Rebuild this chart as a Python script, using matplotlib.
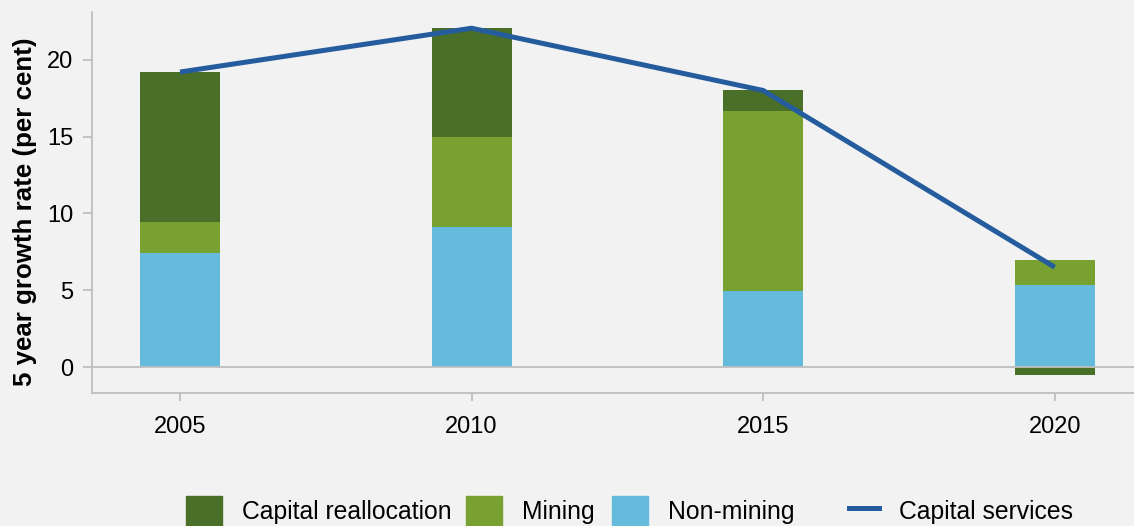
import matplotlib.pyplot as plt
from matplotlib.patches import Patch
from matplotlib.lines import Line2D
import numpy as np

plt.rcParams['font.family'] = ['Liberation Sans', 'DejaVu Sans']

years = ['2005', '2010', '2015', '2020']
non_mining = [7.44, 9.13, 4.97, 5.35]
mining = [2.03, 5.81, 11.71, 1.63]
reallocation = [9.73, 7.14, 1.36, -0.5]
capital_services = [19.2, 22.05, 18.0, 6.5]

c_realloc = '#4a6f28'
c_mining = '#78a131'
c_nonmining = '#64bbdb'
c_line = '#255c9e'
c_grey = '#bfbfbf'
bg = '#f2f2f2'

fig = plt.figure(figsize=(11.34, 5.26), dpi=100, facecolor=bg)
ax = fig.add_axes([0.0811, 0.2534, 0.9189, 0.7236], facecolor=bg)

x = np.arange(len(years))
w = 0.274
nm = np.array(non_mining)
mi = np.array(mining)
re = np.array(reallocation)

ax.bar(x, nm, w, color=c_nonmining, zorder=2)
ax.bar(x, mi, w, bottom=nm, color=c_mining, zorder=2)
# negative reallocation sits below zero, positive stacks on top
re_bottom = np.where(re >= 0, nm + mi, 0)
ax.bar(x, re, w, bottom=re_bottom, color=c_realloc, zorder=2)

ax.axhline(0, color=c_grey, lw=1.3, zorder=3)
ax.plot(x, capital_services, color=c_line, lw=3.6, zorder=4,
        solid_capstyle='butt')

ax.set_xlim(-0.302, 3.272)
ax.set_ylim(-1.67, 23.1)
ax.set_yticks([0, 5, 10, 15, 20])
ax.set_xticks(x)
ax.set_xticklabels(years)

for s in ['top', 'right']:
    ax.spines[s].set_visible(False)
for s in ['left', 'bottom']:
    ax.spines[s].set_color(c_grey)
    ax.spines[s].set_linewidth(1.3)
ax.tick_params(axis='both', colors=c_grey, labelcolor='black',
               labelsize=17, width=1.3, direction='out')
ax.tick_params(axis='x', length=5.5, pad=11)
ax.tick_params(axis='y', length=6.5, pad=7)

fig.text(0.022, 0.597, '5 year growth rate (per cent)', rotation=90,
         ha='center', va='center', fontsize=18.6, fontweight='bold')

# legend entries placed one by one along the bottom
entries = [
    (Patch(color=c_realloc), 'Capital reallocation', 186, 1.44),
    (Patch(color=c_mining), 'Mining', 466, 1.44),
    (Patch(color=c_nonmining), 'Non-mining', 612, 1.44),
    (Line2D([], [], color=c_line, lw=3.6), 'Capital services', 849, 1.2),
]
for handle, label, left_px, hl in entries:
    fig.legend([handle], [label], loc='center left',
               bbox_to_anchor=(left_px / 1134, 0.0285), frameon=False,
               fontsize=17.8, handlelength=hl, handleheight=1.5,
               handletextpad=0.82, borderpad=0, borderaxespad=0)

fig.savefig('out.png', dpi=100, facecolor=bg)
